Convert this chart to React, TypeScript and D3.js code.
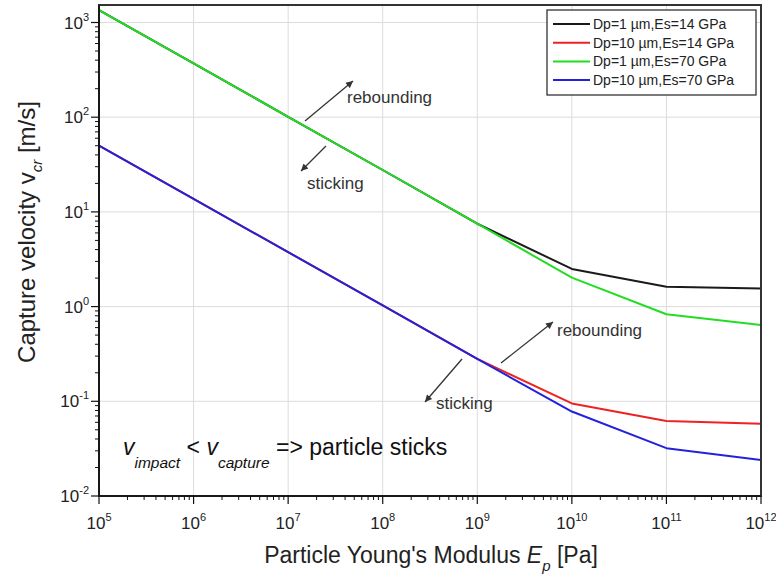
import React from "react";
import * as d3 from "d3";

const modulus = [1e5, 1e6, 1e7, 1e8, 1e9, 1e10, 1e11, 1e12];
const black14Dp1 = [1350, 370, 101, 27.7, 7.5, 2.5, 1.62, 1.55];
const red14Dp10 = [50, 13.7, 3.76, 1.03, 0.28, 0.095, 0.062, 0.058];
const green70Dp1 = [1350, 370, 101, 27.7, 7.5, 2.02, 0.83, 0.64];
const blue70Dp10 = [50, 13.7, 3.76, 1.03, 0.28, 0.078, 0.032, 0.024];

const seriesNames = [
  "Dp=1 µm,Es=14 GPa",
  "Dp=10 µm,Es=14 GPa",
  "Dp=1 µm,Es=70 GPa",
  "Dp=10 µm,Es=70 GPa",
];
const seriesColors = ["#1a1a1a", "#ee2222", "#22dd22", "#2222dd"];
const seriesValues = [black14Dp1, red14Dp10, green70Dp1, blue70Dp10];

const xTickExps = [5, 6, 7, 8, 9, 10, 11, 12];
const yTickExps = [-2, -1, 0, 1, 2, 3];

const FONT = "'Liberation Sans', Arial, Helvetica, sans-serif";

export default function App() {
  const left = 99, right = 761, top = 5, bottom = 496;
  const x = d3.scaleLog().domain([1e5, 1e12]).range([left, right]);
  const y = d3.scaleLog().domain([1e-2, 1e3]).range([bottom, 22.5]);

  const line = d3
    .line<number>()
    .x((_, i) => x(modulus[i]))
    .y((v) => y(v));

  const xMinor: number[] = [];
  for (let e = 5; e < 12; e++) for (let k = 2; k <= 9; k++) xMinor.push(k * Math.pow(10, e));
  const yMinor: number[] = [];
  for (let e = -2; e < 3; e++) for (let k = 2; k <= 9; k++) yMinor.push(k * Math.pow(10, e));
  for (let k = 2; k <= 9; k++) if (y(k * 1000) >= top) yMinor.push(k * 1000);

  const textCol = "#222";
  const arrowCol = "#333";

  return (
    <svg
      width={776}
      height={583}
      style={{ position: "absolute", left: 0, top: 0, background: "#fff" }}
      fontFamily={FONT}
    >
      <defs>
        <marker
          id="ah"
          viewBox="0 0 10 10"
          refX={10}
          refY={5}
          markerWidth={9}
          markerHeight={7}
          markerUnits="userSpaceOnUse"
          orient="auto"
        >
          <path d="M0,0 L10,5 L0,10 z" fill={arrowCol} />
        </marker>
        <clipPath id="plotclip">
          <rect x={left} y={top} width={right - left} height={bottom - top} />
        </clipPath>
      </defs>
      <rect x={0} y={0} width={776} height={583} fill="#fff" />

      {/* grid */}
      {xTickExps.map((e) => (
        <line key={"gx" + e} x1={x(Math.pow(10, e))} x2={x(Math.pow(10, e))} y1={top} y2={bottom} stroke="#dcdcdc" strokeWidth={1} />
      ))}
      {yTickExps.map((e) => (
        <line key={"gy" + e} x1={left} x2={right} y1={y(Math.pow(10, e))} y2={y(Math.pow(10, e))} stroke="#dcdcdc" strokeWidth={1} />
      ))}

      {/* data */}
      <g clipPath="url(#plotclip)">
        {seriesValues.map((vals, i) => (
          <path key={"s" + i} d={line(vals) || ""} fill="none" stroke={seriesColors[i]} strokeWidth={2} strokeLinejoin="round" />
        ))}
      </g>

      {/* frame */}
      <rect x={left} y={top} width={right - left} height={bottom - top} fill="none" stroke="#333" strokeWidth={2} />
      <line x1={left} x2={left} y1={top} y2={bottom} stroke="#111" strokeWidth={1.5} />
      <line x1={left} x2={right} y1={bottom} y2={bottom} stroke="#111" strokeWidth={1.5} />

      {/* x ticks */}
      {xTickExps.map((e) => (
        <line key={"xt" + e} x1={x(Math.pow(10, e))} x2={x(Math.pow(10, e))} y1={bottom} y2={bottom + 8} stroke="#111" strokeWidth={1.2} />
      ))}
      {xMinor.map((v, i) => (
        <line key={"xm" + i} x1={x(v)} x2={x(v)} y1={bottom} y2={bottom + 4} stroke="#111" strokeWidth={1} />
      ))}
      {xTickExps.map((e) => (
        <text key={"xl" + e} x={x(Math.pow(10, e))} y={529} textAnchor="middle" fontSize={17} fill={textCol}>
          10
          <tspan fontSize={11} dy={-8}>{e}</tspan>
        </text>
      ))}

      {/* y ticks */}
      {yTickExps.map((e) => (
        <line key={"yt" + e} x1={left - 8} x2={left} y1={y(Math.pow(10, e))} y2={y(Math.pow(10, e))} stroke="#111" strokeWidth={1.2} />
      ))}
      {yMinor.map((v, i) => (
        <line key={"ym" + i} x1={left - 4} x2={left} y1={y(v)} y2={y(v)} stroke="#111" strokeWidth={1} />
      ))}
      {yTickExps.map((e) => (
        <text key={"yl" + e} x={89} y={y(Math.pow(10, e)) + 6} textAnchor="end" fontSize={17} fill={textCol}>
          10
          <tspan fontSize={11} dy={-8}>{e}</tspan>
        </text>
      ))}

      {/* axis titles */}
      <text x={431} y={563} textAnchor="middle" fontSize={23} fill={textCol}>
        Particle Young's Modulus{" "}
        <tspan fontStyle="italic">E</tspan>
        <tspan fontStyle="italic" fontSize={15} dy={8}>p</tspan>
        <tspan dy={-8}>{"  [Pa]"}</tspan>
      </text>
      <text transform="translate(35,232) rotate(-90)" textAnchor="middle" fontSize={24} fill={textCol}>
        Capture velocity{" "}
        <tspan>v</tspan>
        <tspan fontStyle="italic" fontSize={15} dy={7}>cr</tspan>
        <tspan dy={-7}>{"  [m/s]"}</tspan>
      </text>

      {/* legend */}
      <rect x={547} y={10} width={209} height={85} fill="#fff" stroke="#222" strokeWidth={1.2} />
      {seriesNames.map((n, i) => {
        const ly = 24 + i * 18.7;
        return (
          <g key={"lg" + i}>
            <line x1={553} x2={590} y1={ly} y2={ly} stroke={seriesColors[i]} strokeWidth={2} />
            <text x={593} y={ly + 5} fontSize={14} fill={textCol}>{n}</text>
          </g>
        );
      })}

      {/* annotations */}
      <line x1={305} y1={121} x2={353} y2={81} stroke={arrowCol} strokeWidth={1.3} markerEnd="url(#ah)" />
      <text x={347} y={103} fontSize={17} fill="#333">rebounding</text>
      <line x1={326} y1={146} x2={301} y2={171} stroke={arrowCol} strokeWidth={1.3} markerEnd="url(#ah)" />
      <text x={307} y={189} fontSize={17} fill="#333">sticking</text>

      <line x1={501} y1={363} x2={553} y2={322} stroke={arrowCol} strokeWidth={1.3} markerEnd="url(#ah)" />
      <text x={557} y={336} fontSize={17} fill="#333">rebounding</text>
      <line x1={462} y1={359} x2={425} y2={402} stroke={arrowCol} strokeWidth={1.3} markerEnd="url(#ah)" />
      <text x={436} y={409} fontSize={17} fill="#333">sticking</text>

      <text x={123} y={455} fontSize={23} fill="#111">
        <tspan fontStyle="italic">v</tspan>
        <tspan fontStyle="italic" fontSize={15.5} dy={13}>impact</tspan>
        <tspan dy={-13}>{" < "}</tspan>
        <tspan fontStyle="italic">v</tspan>
        <tspan fontStyle="italic" fontSize={15.5} dy={13}>capture</tspan>
        <tspan dy={-13}>{" => particle sticks"}</tspan>
      </text>
    </svg>
  );
}
